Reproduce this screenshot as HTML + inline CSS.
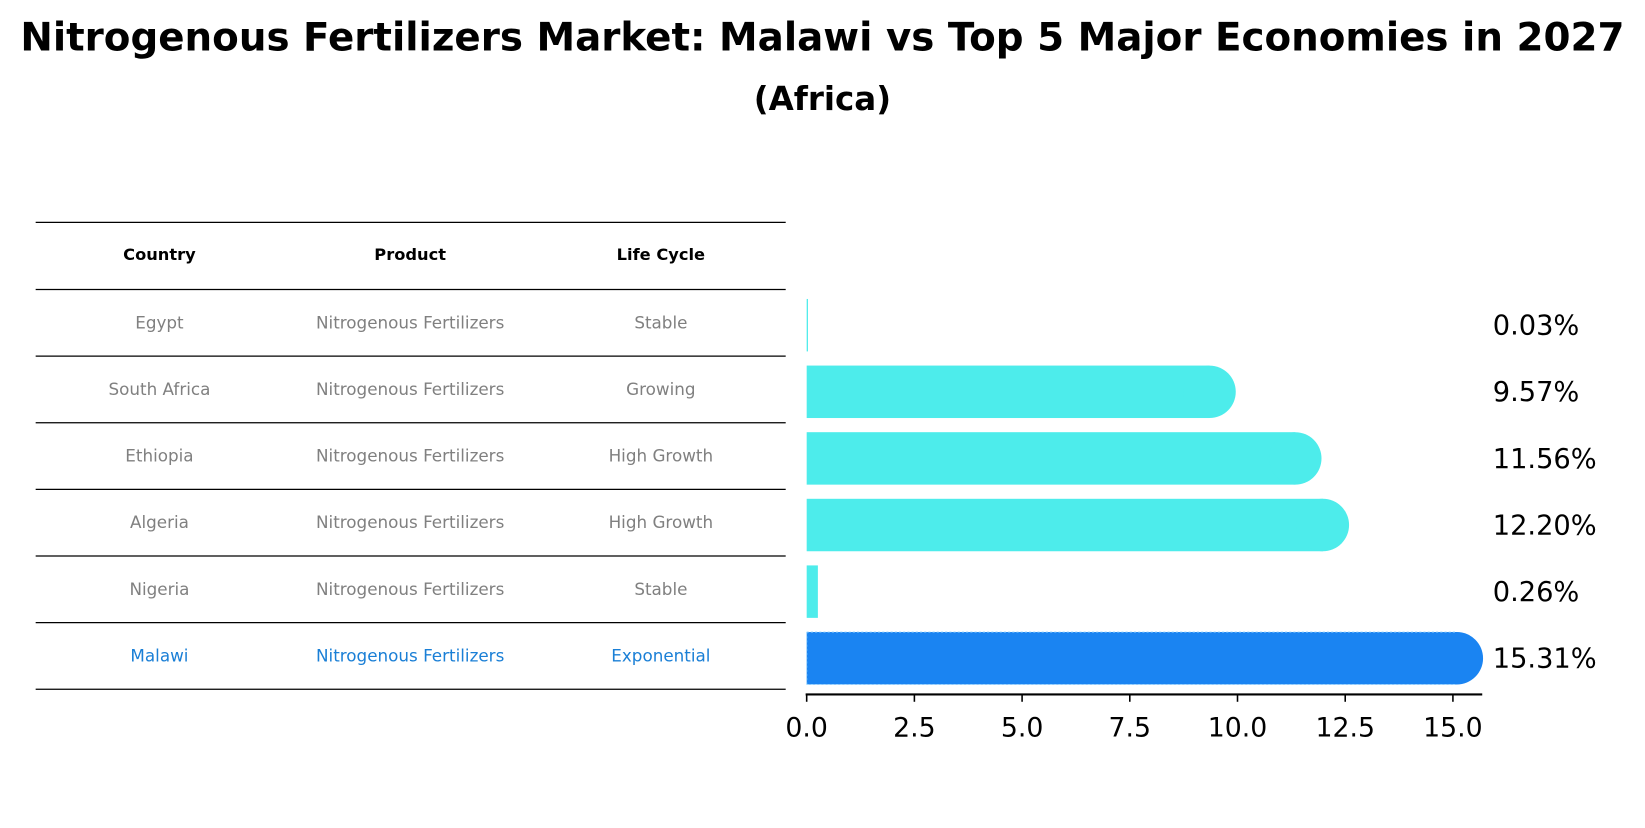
<!DOCTYPE html>
<html><head><meta charset="utf-8"><style>
body{margin:0;background:#fff;font-family:"Liberation Sans","DejaVu Sans",sans-serif}
</style></head><body>
<svg width="1645" height="823" xmlns="http://www.w3.org/2000/svg">
<g transform="scale(1.049)">
<text x="784" y="48" text-anchor="middle" font-size="37" font-weight="bold" font-family="DejaVu Sans, sans-serif">Nitrogenous Fertilizers Market: Malawi vs Top 5 Major Economies in 2027</text>
<text x="784" y="105" text-anchor="middle" font-size="31" font-weight="bold" font-family="DejaVu Sans, sans-serif">(Africa)</text>
<g id="table"></g>
<g id="bars"></g>
</g>
</svg>
<script>
const countries=["Egypt","South Africa","Ethiopia","Algeria","Nigeria","Malawi"];
const stages=["Stable","Growing","High Growth","High Growth","Stable","Exponential"];
const values=[0.03,9.57,11.56,12.20,0.26,15.31];
const ticks=[0,2.5,5,7.5,10,12.5,15];
const NS="http://www.w3.org/2000/svg";
function mk(t,a,p){const e=document.createElementNS(NS,t);for(const k in a)e.setAttribute(k,a[k]);p.appendChild(e);return e;}
const tb=document.getElementById('table'), bg=document.getElementById('bars');
const rowY=i=>308+i*63.5;
const x=v=>769+v*41.07;
for(let i=0;i<8;i++){const y=i==0?212:276+(i-1)*63.5;const l=mk('line',{x1:34,x2:749,y1:y,y2:y,stroke:'#000','stroke-width':1.2},tb);

}
const hdr=["Country","Product","Life Cycle"],cx=[152,391,630];
hdr.forEach((h,j)=>{const t=mk('text',{x:cx[j],y:248,'text-anchor':'middle','font-size':15.5,'font-weight':'bold','font-family':'DejaVu Sans, sans-serif'},tb);t.textContent=h;

});
countries.forEach((c,i)=>{const col=i==5?'#1a7fd6':'#808080';[c,"Nitrogenous Fertilizers",stages[i]].forEach((s,j)=>{
const t=mk('text',{x:cx[j],y:rowY(i)+5,'text-anchor':'middle','font-size':16,fill:col,'font-family':'DejaVu Sans, sans-serif'},tb);t.textContent=s;

});});
values.forEach((v,i)=>{const cy=rowY(i)+2,h=50,col=i==5?'#1a84f2':'#4deceb';const w=Math.max(v*41.07,1);
const g=mk('g',{},bg);


if(w>30){mk('rect',{x:769,y:cy-h/2,width:w-9,height:h,fill:col},g);mk('circle',{cx:769+w-9,cy:cy,r:25,fill:col},g);
if(i==5){mk('path',{d:`M769 ${cy-h/2} H${769+w-9} M769 ${cy+h/2} H${769+w-9} M769 ${cy-h/2} V${cy+h/2}`,stroke:'#9fd8ff','stroke-width':1,'stroke-dasharray':'2,2',fill:'none'},g);}}
else mk('rect',{x:769,y:cy-h/2,width:w,height:h,fill:col},g);
const t=mk('text',{x:1423,y:cy+9,'font-size':26,'font-family':'DejaVu Sans, sans-serif'},bg);t.textContent=v.toFixed(2)+'%';

});
const ax=mk('line',{x1:768,x2:1413,y1:662,y2:662,stroke:'#000','stroke-width':2},bg);


ticks.forEach(v=>{const tk=mk('line',{x1:x(v),x2:x(v),y1:662,y2:669,stroke:'#000','stroke-width':1.5},bg);


const t=mk('text',{x:x(v),y:702,'text-anchor':'middle','font-size':25.5,'font-family':'DejaVu Sans, sans-serif'},bg);t.textContent=v.toFixed(1);

});
</script>
</body></html>
